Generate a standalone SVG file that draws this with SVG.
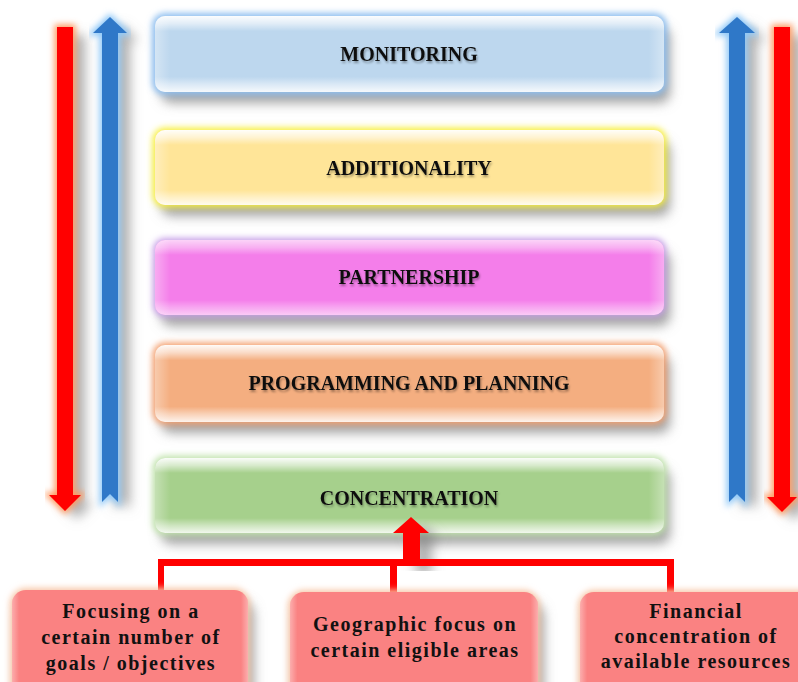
<svg xmlns="http://www.w3.org/2000/svg" width="798" height="682" viewBox="0 0 798 682">
<defs>
  <linearGradient id="gloss" x1="0" y1="0" x2="0" y2="1">
    <stop offset="0" stop-color="#fff" stop-opacity="0.95"/>
    <stop offset="0.1" stop-color="#fff" stop-opacity="0.55"/>
    <stop offset="0.2" stop-color="#fff" stop-opacity="0"/>
    <stop offset="0.8" stop-color="#fff" stop-opacity="0"/>
    <stop offset="0.9" stop-color="#fff" stop-opacity="0.45"/>
    <stop offset="1" stop-color="#fff" stop-opacity="0.85"/>
  </linearGradient>
  <linearGradient id="glossSide" x1="0" y1="0" x2="1" y2="0">
    <stop offset="0" stop-color="#fff" stop-opacity="0.35"/>
    <stop offset="0.03" stop-color="#fff" stop-opacity="0"/>
    <stop offset="0.97" stop-color="#fff" stop-opacity="0"/>
    <stop offset="1" stop-color="#fff" stop-opacity="0.35"/>
  </linearGradient>
  <filter id="shadow" x="-10%" y="-30%" width="125%" height="190%">
    <feGaussianBlur in="SourceAlpha" stdDeviation="6"/>
    <feOffset dx="6" dy="11" result="b"/>
    <feFlood flood-color="#7a7a7a" flood-opacity="0.7"/>
    <feComposite in2="b" operator="in"/>
  </filter>
  <filter id="glow" x="-10%" y="-30%" width="120%" height="160%">
    <feGaussianBlur stdDeviation="3"/>
  </filter>
  <filter id="ashadow" x="-100%" y="-10%" width="400%" height="120%">
    <feGaussianBlur in="SourceAlpha" stdDeviation="6"/>
    <feOffset dx="12" dy="8" result="b"/>
    <feFlood flood-color="#7a7a7a" flood-opacity="0.6"/>
    <feComposite in2="b" operator="in"/>
  </filter>
  <filter id="txt" x="-5%" y="-30%" width="110%" height="160%">
    <feGaussianBlur in="SourceAlpha" stdDeviation="0.8"/>
    <feOffset dx="1.2" dy="1.5" result="b"/>
    <feFlood flood-color="#000" flood-opacity="0.35"/>
    <feComposite in2="b" operator="in"/>
    <feMerge><feMergeNode/><feMergeNode in="SourceGraphic"/></feMerge>
  </filter>
</defs>
<style>
  .lbl{font-family:"Liberation Serif","Times New Roman",serif;font-weight:bold;font-size:20px;fill:#111;text-anchor:middle}
  .sub{font-family:"Liberation Serif","Times New Roman",serif;font-weight:bold;font-size:20px;fill:#111;text-anchor:middle;letter-spacing:1.5px}
  .red{fill:#FF0000}
  .blue{fill:#2F78C8}
</style>
<rect width="798" height="682" fill="#fff"/>

<!-- arrows on sides -->
<g id="arrow-left-red">
  <polygon filter="url(#ashadow)" points="57,27 73,27 73,495 81,495 65,511 49,495 57,495"/>
  <polygon filter="url(#glow)" fill="#FF9A60" stroke="#FF9A60" stroke-width="5" points="57,27 73,27 73,495 81,495 65,511 49,495 57,495"/>
  <polygon class="red" points="57,27 73,27 73,495 81,495 65,511 49,495 57,495"/>
</g>
<g id="arrow-left-blue">
  <polygon filter="url(#ashadow)" points="110,17 127,33 118,33 118,502 110,494 102,502 102,33 93,33"/>
  <polygon filter="url(#glow)" fill="#8EC8F8" stroke="#8EC8F8" stroke-width="5" points="110,17 127,33 118,33 118,502 110,494 102,502 102,33 93,33"/>
  <polygon class="blue" points="110,17 127,33 118,33 118,502 110,494 102,502 102,33 93,33"/>
</g>
<g id="arrow-right-blue">
  <polygon filter="url(#ashadow)" points="737,17 755,33 745,33 745,502 737,494 729,502 729,33 719,33"/>
  <polygon filter="url(#glow)" fill="#8EC8F8" stroke="#8EC8F8" stroke-width="5" points="737,17 755,33 745,33 745,502 737,494 729,502 729,33 719,33"/>
  <polygon class="blue" points="737,17 755,33 745,33 745,502 737,494 729,502 729,33 719,33"/>
</g>
<g id="arrow-right-red">
  <polygon filter="url(#ashadow)" points="774,27 790,27 790,497 797,497 782,512 767,497 774,497"/>
  <polygon filter="url(#glow)" fill="#FF9A60" stroke="#FF9A60" stroke-width="5" points="774,27 790,27 790,497 797,497 782,512 767,497 774,497"/>
  <polygon class="red" points="774,27 790,27 790,497 797,497 782,512 767,497 774,497"/>
</g>

<!-- main boxes -->
<g id="monitoring">
  <rect x="155" y="16" width="509" height="76" rx="10" filter="url(#shadow)"/>
  <rect x="155" y="16" width="509" height="76" rx="10" fill="#90C0F0" stroke="#90C0F0" stroke-width="6" filter="url(#glow)"/>
  <rect x="155" y="16" width="509" height="76" rx="10" fill="#BDD7EE"/>
  <rect x="155" y="16" width="509" height="76" rx="10" fill="url(#gloss)"/>
  <rect x="155" y="16" width="509" height="76" rx="10" fill="url(#glossSide)"/>
  <text class="lbl" x="409" y="61" filter="url(#txt)">MONITORING</text>
</g>
<g id="additionality">
  <rect x="155" y="130" width="509" height="75" rx="10" filter="url(#shadow)"/>
  <rect x="155" y="130" width="509" height="75" rx="10" fill="#F8F040" stroke="#F8F040" stroke-width="5" filter="url(#glow)"/>
  <rect x="155" y="130" width="509" height="75" rx="10" fill="#FFE598"/>
  <rect x="155" y="130" width="509" height="75" rx="10" fill="url(#gloss)"/>
  <rect x="155" y="130" width="509" height="75" rx="10" fill="url(#glossSide)"/>
  <text class="lbl" x="409" y="175" filter="url(#txt)">ADDITIONALITY</text>
</g>
<g id="partnership">
  <rect x="155" y="240" width="509" height="75" rx="10" filter="url(#shadow)"/>
  <rect x="155" y="240" width="509" height="75" rx="10" fill="#C8A0E8" stroke="#C8A0E8" stroke-width="4" filter="url(#glow)"/>
  <rect x="155" y="240" width="509" height="75" rx="10" fill="#F47EEA"/>
  <rect x="155" y="240" width="509" height="75" rx="10" fill="url(#gloss)" opacity="0.7"/>
  <rect x="155" y="240" width="509" height="75" rx="10" fill="url(#glossSide)"/>
  <text class="lbl" x="409" y="284" filter="url(#txt)">PARTNERSHIP</text>
</g>
<g id="programming">
  <rect x="155" y="345" width="509" height="77" rx="10" filter="url(#shadow)"/>
  <rect x="155" y="345" width="509" height="77" rx="10" fill="#F4A070" stroke="#F4A070" stroke-width="5" filter="url(#glow)"/>
  <rect x="155" y="345" width="509" height="77" rx="10" fill="#F4AE80"/>
  <rect x="155" y="345" width="509" height="77" rx="10" fill="url(#gloss)"/>
  <rect x="155" y="345" width="509" height="77" rx="10" fill="url(#glossSide)"/>
  <text class="lbl" x="409" y="390" filter="url(#txt)">PROGRAMMING AND PLANNING</text>
</g>
<g id="concentration">
  <rect x="155" y="458" width="509" height="75" rx="10" filter="url(#shadow)"/>
  <rect x="155" y="458" width="509" height="75" rx="10" fill="#C2E4AE" stroke="#C2E4AE" stroke-width="5" filter="url(#glow)"/>
  <rect x="155" y="458" width="509" height="75" rx="10" fill="#A6D08C"/>
  <rect x="155" y="458" width="509" height="75" rx="10" fill="url(#gloss)"/>
  <rect x="155" y="458" width="509" height="75" rx="10" fill="url(#glossSide)"/>
  <text class="lbl" x="409" y="505" filter="url(#txt)">CONCENTRATION</text>
</g>

<!-- connectors -->
<g id="connectors">
  <path filter="url(#ashadow)" d="M403,566 V533 H393 L411,517 L429,533 H420 V566 Z"/>
  <path class="red" d="M158,559 H674 V592 H667 V566 H397 V592 H390 V566 H164 V592 H158 Z"/>
  <path class="red" d="M403,560 V533 H393 L411,517 L429,533 H420 V560 Z"/>
</g>

<!-- bottom boxes -->
<g id="focus-goals">
  <rect x="12" y="590" width="236" height="110" rx="14" filter="url(#shadow)"/>
  <rect x="12" y="590" width="236" height="110" rx="14" fill="#F8C8A8" stroke="#F8C8A8" stroke-width="4" filter="url(#glow)"/>
  <rect x="12" y="590" width="236" height="110" rx="14" fill="#FA8282"/>
  <rect x="12" y="590" width="236" height="110" rx="14" fill="url(#glossSide)"/>
  <text class="sub" x="131" y="618">Focusing on a</text>
  <text class="sub" x="131" y="644">certain number of</text>
  <text class="sub" x="131" y="670">goals / objectives</text>
</g>
<g id="focus-areas">
  <rect x="290" y="592" width="248" height="108" rx="14" filter="url(#shadow)"/>
  <rect x="290" y="592" width="248" height="108" rx="14" fill="#F8C8A8" stroke="#F8C8A8" stroke-width="4" filter="url(#glow)"/>
  <rect x="290" y="592" width="248" height="108" rx="14" fill="#FA8282"/>
  <rect x="290" y="592" width="248" height="108" rx="14" fill="url(#glossSide)"/>
  <text class="sub" x="415" y="631">Geographic focus on</text>
  <text class="sub" x="415" y="657">certain eligible areas</text>
</g>
<g id="financial">
  <rect x="580" y="592" width="240" height="108" rx="14" filter="url(#shadow)"/>
  <rect x="580" y="592" width="240" height="108" rx="14" fill="#F8C8A8" stroke="#F8C8A8" stroke-width="4" filter="url(#glow)"/>
  <rect x="580" y="592" width="240" height="108" rx="14" fill="#FA8282"/>
  <rect x="580" y="592" width="240" height="108" rx="14" fill="url(#glossSide)"/>
  <text class="sub" x="696" y="618">Financial</text>
  <text class="sub" x="696" y="643">concentration of</text>
  <text class="sub" x="696" y="668">available resources</text>
</g>
</svg>
